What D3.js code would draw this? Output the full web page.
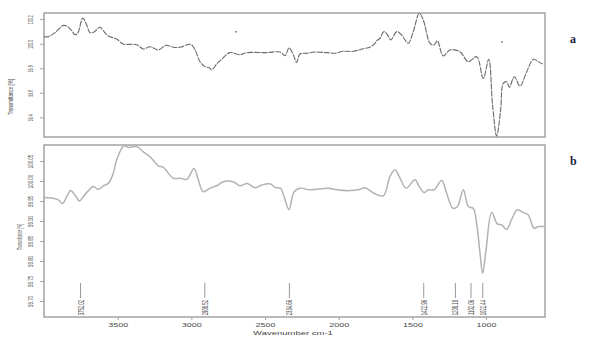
<!DOCTYPE html>
<html>
<head>
<meta charset="utf-8">
<script src="https://cdn.jsdelivr.net/npm/d3@7"></script>
<style>
  body { margin: 0; background: #fff; }
  svg { display: block; }
</style>
</head>
<body>
<div class="fixed"></div>
<script>
// spectrum a (dark dotted trace)
var wnA = [4000,3971,3925,3873,3846,3812,3790,3771,3737,3710,
           3688,3661,3620,3598,3564,3507,3462,3371,3326,3281,
           3224,3172,3123,3077,3004,2975,2941,2907,2873,2862,
           2828,2794,2738,2670,2624,2489,2398,2364,2337,2308,
           2285,2263,2217,2161,2081,2025,1969,1901,1833,1788,
           1754,1742,1720,1693,1663,1647,1606,1573,1528,1494,
           1453,1426,1380,1353,1331,1290,1245,1177,1121,1064,
           1019,982,955,928,901,883,860,842,808,770,
           724,679,646,616];
var tA = [100.057,100.057,100.090,100.147,100.144,100.106,100.073,100.085,100.209,100.152,
          100.090,100.095,100.134,100.106,100.063,100.038,99.997,99.992,99.957,99.975,
          99.949,99.987,99.971,99.971,99.995,99.949,99.853,99.813,99.800,99.786,
          99.835,99.873,99.927,99.910,99.927,99.927,99.932,99.902,99.967,99.908,
          99.848,99.916,99.922,99.932,99.927,99.922,99.938,99.938,99.959,99.972,
          100.003,100.024,100.044,100.098,100.063,100.030,100.098,100.071,100.003,100.098,
          100.248,100.193,100.003,99.989,100.024,99.900,99.949,99.935,99.853,99.894,
          99.718,99.873,99.487,99.248,99.460,99.677,99.690,99.645,99.731,99.655,
          99.772,99.873,99.853,99.835];
// two stray specks in panel a
var strayWn = [2697, 892];
var strayT = [100.097, 100.015];

// spectrum b (light grey trace)
var wnB = [4000,3937,3903,3873,3846,3819,3790,3760,3733,3699,
           3665,3632,3598,3564,3534,3503,3457,3428,3371,3326,
           3281,3224,3190,3123,3077,3032,2982,2953,2919,2873,
           2828,2783,2715,2670,2620,2568,2523,2466,2432,2394,
           2371,2337,2303,2263,2195,2071,2014,1923,1860,1822,
           1754,1697,1652,1618,1584,1543,1482,1453,1421,1392,
           1353,1301,1267,1226,1195,1154,1120,1087,1064,1041,
           1023,1000,962,924,894,860,826,788,747,713,
           675,646,607];
var tB = [99.959,99.957,99.953,99.944,99.961,99.976,99.965,99.950,99.961,99.976,
          99.986,99.979,99.988,99.994,100.015,100.057,100.088,100.084,100.086,100.073,
          100.061,100.038,100.034,100.007,100.007,100.004,100.031,100.003,99.973,99.982,
          99.988,99.998,99.998,99.988,99.994,99.983,99.990,99.993,99.984,99.982,
          99.961,99.928,99.973,99.982,99.978,99.982,99.978,99.976,99.979,99.983,
          99.968,99.963,100.011,100.028,100.007,99.982,100.003,99.986,99.971,99.978,
          99.978,100.001,99.969,99.932,99.936,99.978,99.936,99.932,99.894,99.819,
          99.769,99.828,99.921,99.893,99.890,99.879,99.904,99.928,99.921,99.915,
          99.882,99.886,99.886];

// peak picks shown under panel b
var peakWn = [3752.02, 2908.52, 2334.66, 1422.96, 1208.18, 1102.06, 1022.44];
var peakLabels = ["3752.02", "2908.52", "2334.66", "1422.96", "1208.18", "1102.06", "1022.44"];
var peakTop = 99.745, peakBottom = 99.7075;

// tick values
var xTicks = [3500, 3000, 2500, 2000, 1500, 1000];
var yTicksA = [100.2, 100.0, 99.8, 99.6, 99.4];
var yTicksB = [100.05, 100.00, 99.95, 99.90, 99.85, 99.80, 99.75, 99.70];

var chart_width  = 594;
var chart_height = 347;

var svg = d3.select(".fixed")
    .append("svg")
    .attr("width", chart_width)
    .attr("height", chart_height)
    .style("font-family", "'Liberation Sans', Arial, sans-serif");

// scales
var x_scale  = d3.scaleLinear().domain([4000, 600]).range([44, 545]);
var ya_scale = d3.scaleLinear().domain([99.24, 100.25]).range([137, 13]);
var yb_scale = d3.scaleLinear().domain([99.66, 100.09]).range([317, 145]);

var frameColor = "#a3a3a3";
var textColor  = "#4a4a4a";

// frames
function frame(ys) {
    var r = ys.range();
    svg.append("rect")
        .attr("x", x_scale.range()[0])
        .attr("y", r[1])
        .attr("width", x_scale.range()[1] - x_scale.range()[0])
        .attr("height", r[0] - r[1])
        .attr("fill", "none")
        .attr("stroke", frameColor)
        .attr("stroke-width", 1.5);
}
frame(ya_scale);
frame(yb_scale);

// y axes (labels rotated and squashed like the stretched original)
function yAxis(ys, ticks, fmt, fs, sq) {
    svg.append("g")
        .attr("transform", "translate(" + x_scale.range()[0] + ",0)")
        .call(d3.axisLeft(ys).tickValues(ticks).tickFormat(d3.format(fmt)).tickSize(4))
        .call(g => g.select(".domain").remove())
        .call(g => g.selectAll(".tick line").attr("stroke", frameColor))
        .call(g => g.selectAll(".tick text")
            .attr("x", null).attr("dy", null)
            .attr("text-anchor", "middle")
            .attr("fill", textColor)
            .style("font-size", fs + "px")
            .attr("transform", "translate(-11,0) scale(1," + sq + ") rotate(-90)"));
}
yAxis(ya_scale, yTicksA, ".1f", 8, 0.45);
yAxis(yb_scale, yTicksB, ".2f", 7.5, 0.6);

// y titles
svg.append("text")
    .attr("transform", "translate(13,97) scale(1,0.6) rotate(-90)")
    .attr("text-anchor", "middle")
    .attr("fill", textColor)
    .style("font-size", "7.5px")
    .text("Transmittance [%]");
svg.append("text")
    .attr("transform", "translate(22,237) scale(1,0.5) rotate(-90)")
    .attr("text-anchor", "middle")
    .attr("fill", textColor)
    .style("font-size", "6.5px")
    .text("Transmittance [%]");

// x axis
svg.append("g")
    .attr("transform", "translate(0," + yb_scale.range()[0] + ")")
    .call(d3.axisBottom(x_scale).tickValues(xTicks).tickFormat(d3.format("d")).tickSize(3))
    .call(g => g.select(".domain").remove())
    .call(g => g.selectAll(".tick line").attr("stroke", frameColor))
    .call(g => g.selectAll(".tick text")
        .attr("y", null).attr("dy", null)
        .attr("fill", textColor)
        .style("font-size", "9px")
        .attr("transform", "translate(0,10) scale(1,0.5)"));

svg.append("text")
    .attr("transform", "translate(293,335) scale(1,0.65)")
    .attr("text-anchor", "middle")
    .attr("fill", "#444")
    .style("font-size", "9.5px")
    .text("Wavenumber cm-1");

// peak markers
var peaks = svg.append("g");
peaks.selectAll("line")
    .data(peakWn)
    .enter()
    .append("line")
    .attr("x1", d => x_scale(d))
    .attr("x2", d => x_scale(d))
    .attr("y1", yb_scale(peakTop))
    .attr("y2", yb_scale(peakBottom))
    .attr("stroke", "#999")
    .attr("stroke-width", 1);
peaks.selectAll("text")
    .data(peakWn)
    .enter()
    .append("text")
    .attr("transform", d => "translate(" + (x_scale(d) + 3) + "," + (yb_scale(peakBottom) + 2) + ") scale(1,0.5) rotate(-90)")
    .attr("text-anchor", "end")
    .attr("fill", textColor)
    .style("font-size", "8.5px")
    .text((d, i) => peakLabels[i]);

// traces
var lineA = d3.line()
    .x(i => x_scale(wnA[i]))
    .y(i => ya_scale(tA[i]))
    .curve(d3.curveCatmullRom.alpha(0.5));
svg.append("path")
    .attr("d", lineA(d3.range(wnA.length)))
    .attr("fill", "none")
    .attr("stroke", "#6a6a6a")
    .attr("stroke-width", 1.1)
    .attr("stroke-dasharray", "6,1");

svg.selectAll(".stray")
    .data(strayWn)
    .enter()
    .append("rect")
    .attr("class", "stray")
    .attr("x", d => x_scale(d) - 0.8)
    .attr("y", (d, i) => ya_scale(strayT[i]) - 0.8)
    .attr("width", 1.6)
    .attr("height", 1.6)
    .attr("fill", "#777");

var lineB = d3.line()
    .x(i => x_scale(wnB[i]))
    .y(i => yb_scale(tB[i]))
    .curve(d3.curveCatmullRom.alpha(0.5));
svg.append("path")
    .attr("d", lineB(d3.range(wnB.length)))
    .attr("fill", "none")
    .attr("stroke", "#b3b3b3")
    .attr("stroke-width", 1.5);

// panel letters
svg.append("text")
    .attr("x", 570).attr("y", 43)
    .attr("fill", "#1c1c3c")
    .style("font-family", "'Liberation Serif', 'Times New Roman', serif")
    .style("font-weight", "bold")
    .style("font-size", "12px")
    .text("a");
svg.append("text")
    .attr("x", 570).attr("y", 165)
    .attr("fill", "#1c1c3c")
    .style("font-family", "'Liberation Serif', 'Times New Roman', serif")
    .style("font-weight", "bold")
    .style("font-size", "12px")
    .text("b");
</script>
</body>
</html>
